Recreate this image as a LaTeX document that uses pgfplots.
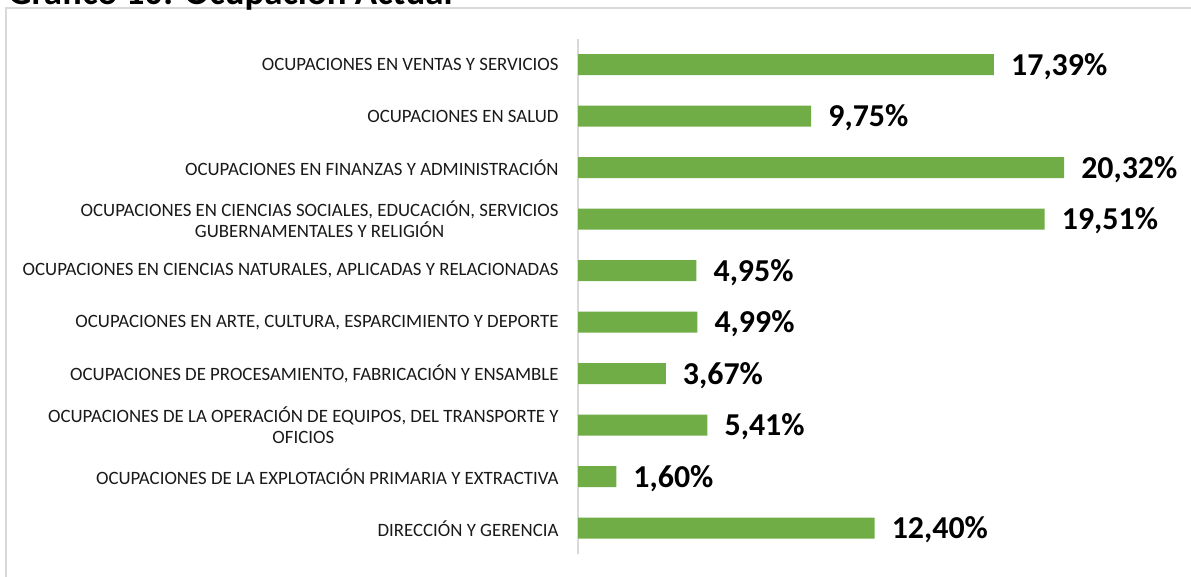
\documentclass[border=0pt]{standalone}
\usepackage{pgfplots}
\pgfplotsset{compat=1.18}
\usepackage{fontspec}
\setmainfont{Carlito}
\definecolor{bargreen}{HTML}{70AD47}
\definecolor{framegray}{HTML}{D9D9D9}
\begin{document}
\begin{tikzpicture}[x=1bp,y=1bp]
\path[use as bounding box] (0,0) rectangle (1191,577);
% frame
\draw[framegray, line width=2bp] (6,-2) -- (6,569) -- (1195,569);
% cut-off title
\begin{scope}
\clip (0,560) rectangle (1191,577);
\node[anchor=base west, inner sep=0pt, font=\fontsize{37}{40}\selectfont\bfseries] at (8,572.5) {Gráfico 10: Ocupación Actual};
\end{scope}
\begin{axis}[
  at={(578bp,23bp)}, anchor=south west,
  scale only axis, width=526.24bp, height=515bp,
  xmin=0, xmax=22, ymin=-0.5, ymax=9.5,
  axis y line=left, axis x line=none,
  y axis line style={draw=framegray, line width=1.2bp, -},
  xtick=\empty,
  ytick={0,...,9},
  ytick style={draw=none},
  yticklabels={
    {DIRECCIÓN Y GERENCIA},
    {OCUPACIONES DE LA EXPLOTACIÓN PRIMARIA Y EXTRACTIVA},
    {OCUPACIONES DE LA OPERACIÓN DE EQUIPOS, DEL TRANSPORTE Y\\OFICIOS},
    {OCUPACIONES DE PROCESAMIENTO, FABRICACIÓN Y ENSAMBLE},
    {OCUPACIONES EN ARTE, CULTURA, ESPARCIMIENTO Y DEPORTE},
    {OCUPACIONES EN CIENCIAS NATURALES, APLICADAS Y RELACIONADAS},
    {OCUPACIONES EN CIENCIAS SOCIALES, EDUCACIÓN, SERVICIOS\\GUBERNAMENTALES Y RELIGIÓN},
    {OCUPACIONES EN FINANZAS Y ADMINISTRACIÓN},
    {OCUPACIONES EN SALUD},
    {OCUPACIONES EN VENTAS Y SERVICIOS}},
  yticklabel style={font=\fontsize{18.9}{21}\selectfont, align=center, inner sep=0pt, xshift=-15bp, text=black!90},
  clip=false,
  xbar, bar width=21bp,
  point meta=explicit symbolic,
  nodes near coords={\pgfplotspointmeta\%},
  every node near coord/.append style={font=\fontsize{32}{34}\selectfont\bfseries, anchor=base west, inner sep=0pt, xshift=17bp, yshift=-10.5bp, text=black},
]
\addplot[fill=bargreen, draw=none] table[x=v, y=i, meta=lab] {
i v lab
0 12.40 12,40
1 1.60 1,60
2 5.41 5,41
3 3.67 3,67
4 4.99 4,99
5 4.95 4,95
6 19.51 19,51
7 20.32 20,32
8 9.75 9,75
9 17.39 17,39
};
\end{axis}
\end{tikzpicture}
\end{document}
